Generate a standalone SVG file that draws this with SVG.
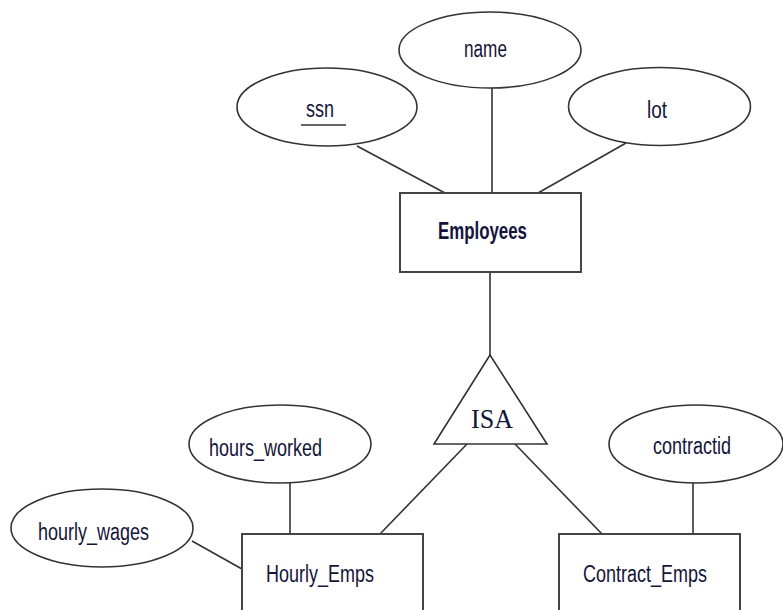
<svg xmlns="http://www.w3.org/2000/svg" width="783" height="610" viewBox="0 0 783 610">
<style>
.sh{fill:#fff;stroke:#333;stroke-width:1.6}
.rc{fill:#fff;stroke:#444;stroke-width:2}
.ln{stroke:#333;stroke-width:1.6;fill:none}
.t{font-family:"Liberation Sans Narrow","Liberation Sans","DejaVu Sans Condensed",sans-serif;font-size:23px;fill:#14143a}
.b{font-weight:bold}
.s{font-family:"Liberation Serif","DejaVu Serif",serif;font-size:27px;fill:#14143a}
</style>
<rect width="783" height="610" fill="#fff"/>
<g id="connectors">
<line class="ln" x1="357" y1="146" x2="445" y2="193"/>
<line class="ln" x1="492" y1="88" x2="492" y2="193"/>
<line class="ln" x1="626" y1="143" x2="538" y2="193"/>
<line class="ln" x1="490" y1="272" x2="490" y2="355"/>
<line class="ln" x1="467" y1="444" x2="380" y2="534"/>
<line class="ln" x1="515" y1="444" x2="602" y2="534"/>
<line class="ln" x1="290" y1="483" x2="290" y2="534"/>
<line class="ln" x1="192" y1="541" x2="242" y2="569"/>
<line class="ln" x1="693" y1="483" x2="693" y2="534"/>
</g>
<g id="name"><ellipse class="sh" cx="490" cy="50" rx="91" ry="38"/><text class="t" x="464" y="57" textLength="43" lengthAdjust="spacingAndGlyphs">name</text></g>
<g id="ssn"><ellipse class="sh" cx="327" cy="107" rx="90" ry="39"/><text class="t" x="306" y="117" textLength="28" lengthAdjust="spacingAndGlyphs">ssn</text><line class="ln" x1="301" y1="125" x2="346" y2="125"/></g>
<g id="lot"><ellipse class="sh" cx="659.5" cy="106.5" rx="91" ry="39"/><text class="t" x="647" y="118" textLength="20" lengthAdjust="spacingAndGlyphs">lot</text></g>
<g id="employees"><rect class="rc" x="400" y="193" width="181" height="79"/><text class="t b" x="438" y="239" textLength="89" lengthAdjust="spacingAndGlyphs">Employees</text></g>
<g id="isa"><polygon class="sh" points="490,355 434,444 547,444"/><text class="s" x="471" y="428" textLength="42" lengthAdjust="spacingAndGlyphs">ISA</text></g>
<g id="hours_worked"><ellipse class="sh" cx="280" cy="444" rx="91" ry="39"/><text class="t" x="209" y="456" textLength="113" lengthAdjust="spacingAndGlyphs">hours_worked</text></g>
<g id="hourly_wages"><ellipse class="sh" cx="102" cy="528" rx="91" ry="39"/><text class="t" x="38" y="540" textLength="111" lengthAdjust="spacingAndGlyphs">hourly_wages</text></g>
<g id="contractid"><ellipse class="sh" cx="696" cy="444" rx="87" ry="39"/><text class="t" x="653" y="454" textLength="78" lengthAdjust="spacingAndGlyphs">contractid</text></g>
<g id="hourly_emps"><rect class="rc" x="242" y="534" width="181" height="90"/><text class="t" x="266" y="582" textLength="108" lengthAdjust="spacingAndGlyphs">Hourly_Emps</text></g>
<g id="contract_emps"><rect class="rc" x="559" y="534" width="181" height="90"/><text class="t" x="583" y="582" textLength="124" lengthAdjust="spacingAndGlyphs">Contract_Emps</text></g>
</svg>
